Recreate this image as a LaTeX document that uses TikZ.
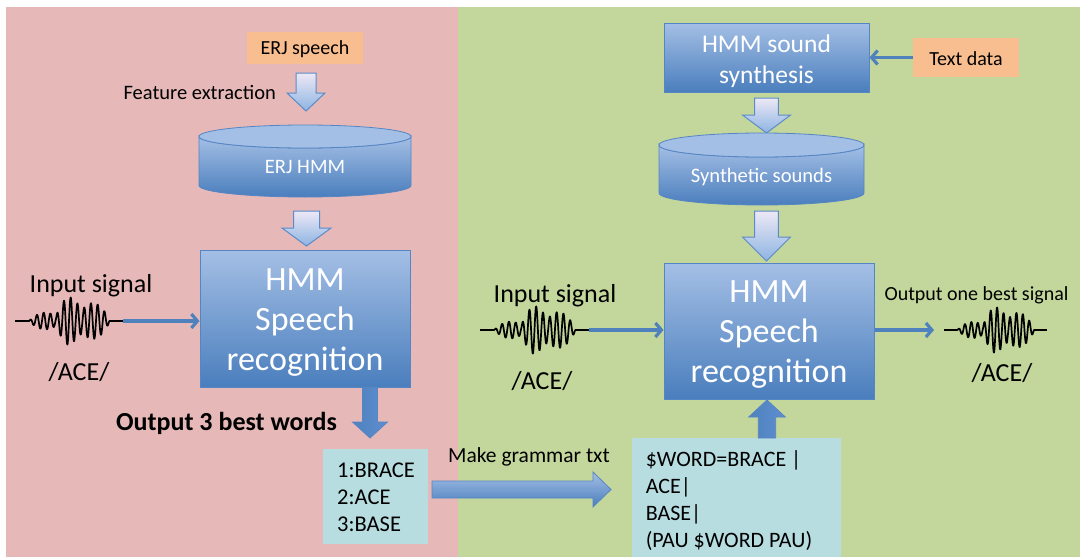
\documentclass[tikz,border=0pt]{standalone}
\usepackage{fontspec}
\setmainfont{Carlito}
\usetikzlibrary{arrows.meta}
\definecolor{pinkbg}{HTML}{E6B9B8}
\definecolor{greenbg}{HTML}{C3D69B}
\definecolor{orangebox}{HTML}{F9BE8F}
\definecolor{cyanbox}{HTML}{B7DDE0}
\definecolor{boxtop}{HTML}{A4BFE5}
\definecolor{boxbot}{HTML}{4A7EBD}
\definecolor{boxedge}{HTML}{5585C5}
\definecolor{arrtop}{HTML}{EDE8F5}
\definecolor{arrbot}{HTML}{8DB4E2}
\definecolor{arredge}{HTML}{5B8BC9}
\definecolor{lineblue}{HTML}{4F81BD}
\definecolor{darkarrL}{HTML}{4F81BD}
\definecolor{darkarrM}{HTML}{92B3E4}
\definecolor{darkarrR}{HTML}{5E8ED0}
\newcommand\myfs[1]{\fontsize{#1}{#1}\selectfont}
\newcommand\blockv[7]{\path[#7] ({#1-#5},#2) -- ({#1+#5},#2) -- ({#1+#5},#3) -- ({#1+#6},#3) -- (#1,#4) -- ({#1-#6},#3) -- ({#1-#5},#3) -- cycle;}
\newcommand\mywave[4]{\draw[wave] plot[domain=0:1, samples=320] ({#1+#3*\x}, {#2 - #4*wenv(\x)*sin(\x*5760)});}
\newcommand\mycyl[6]{%
  \path[cylbody] ({#1-#2},{#4+#5}) -- ({#1-#2},{#3-#5}) arc[start angle=180,end angle=0,x radius=#2,y radius=#5] -- ({#1+#2},{#4+#5}) arc[start angle=0,end angle=180,x radius=#2,y radius=#5] -- cycle;
  \path[cyltop] (#1,{#4+#5}) ellipse[x radius=#2,y radius=#5];
  \node[inner sep=0, minimum width={2*#2*1pt}, minimum height={(#3-#4)*1pt}] (#6) at (#1,{(#3+#4)/2}) {};}
\begin{document}
\begin{tikzpicture}[x=1pt,y=-1pt,
  declare function={bmp(\u)=max(0,1-\u*\u); wenv(\u)=0.35*bmp((\u-0.28)/0.15)+bmp((\u-0.5)/0.12)+0.75*bmp((\u-0.72)/0.16);},
  wave/.style={black, line width=1.7pt, line join=round},
  bluebox/.style={draw=boxedge, line width=1pt, top color=boxtop, bottom color=boxbot, inner sep=0},
  orangenode/.style={fill=orangebox, inner sep=0},
  cyannode/.style={fill=cyanbox, inner sep=0},
  wtxt/.style={white, inner sep=0, anchor=base},
  btxt/.style={black, inner sep=0, anchor=base},
  lightarrow/.style={top color=arrtop, bottom color=arrbot, draw=arredge, line width=1pt, line join=miter},
  darkarrow/.style={left color=darkarrL, middle color=darkarrM, right color=darkarrR, draw=boxedge, line width=0.8pt},
  bigarrow/.style={top color=boxtop, bottom color=boxbot, draw=boxedge, line width=0.8pt},
  thinarrow/.style={draw=lineblue, line width=3.2pt, -{Straight Barb[length=6pt,width=14pt]}},
  cylbody/.style={top color=boxtop, bottom color=boxbot, draw=boxedge, line width=0.8pt},
  cyltop/.style={fill=boxtop, draw=boxedge, line width=0.8pt}]
\useasboundingbox (0,0) rectangle (1080,557);
\fill[white] (0,0) rectangle (1080,557);
\fill[pinkbg] (6,7) rectangle (458,557);
\fill[greenbg] (458,7) rectangle (1080,557);

% ---------- left panel ----------
\node[orangenode, minimum width=116pt, minimum height=32pt] (erjsp) at (305,48) {};
\node[btxt, font=\myfs{20}] (erjspT) at (305,54.5) {ERJ speech};
\blockv{306}{73}{93}{111}{10}{19}{lightarrow}
\node[btxt, font=\myfs{20.5}, anchor=base east] (featT) at (276,99.5) {Feature extraction};
\mycyl{305}{106}{197}{125}{11.5}{erjhmm}
\node[wtxt, font=\myfs{20.5}] (erjhmmT) at (305,173.5) {ERJ HMM};
\blockv{306.5}{211}{228}{246}{13}{24.5}{lightarrow}
\node[bluebox, minimum width=210pt, minimum height=137pt] (hmmL) at (305,318.5) {};
\node[wtxt, font=\myfs{34}] (hmmL1) at (305,290) {HMM};
\node[wtxt, font=\myfs{34}] (hmmL2) at (305,330) {Speech};
\node[wtxt, font=\myfs{34}] (hmmL3) at (305,370) {recognition};
\node[btxt, font=\myfs{26}] (inL) at (91,292) {Input signal};
\mywave{15}{321}{108}{24}
\coordinate (wLend) at (123,321);
\draw[thinarrow] (wLend) -- (hmmL.west |- wLend);
\node[btxt, font=\myfs{26}] (aceL) at (79,380) {/ACE/};
\blockv{370}{387}{422}{438}{7.5}{17.5}{darkarrow}
\node[btxt, font=\bfseries\myfs{26}] (out3) at (226.5,430) {Output 3 best words};
\node[cyannode, minimum width=105pt, minimum height=95pt, anchor=north west] (words) at (323,449) {};
\node[btxt, font=\myfs{22.5}, anchor=base west] (w1) at (337,477) {1:BRACE};
\node[btxt, font=\myfs{22.5}, anchor=base west] (w2) at (337,504) {2:ACE};
\node[btxt, font=\myfs{22.5}, anchor=base west] (w3) at (337,531) {3:BASE};
\path[bigarrow] (432,481) -- (593,481) -- (593,472) -- (611,489.5) -- (593,507) -- (593,498) -- (432,498) -- cycle;
\node[btxt, font=\myfs{21.5}, anchor=base west] (mkg) at (448,462) {Make grammar txt};

% ---------- right panel ----------
\node[bluebox, minimum width=205pt, minimum height=69pt] (synth) at (766.5,57.5) {};
\node[wtxt, font=\myfs{25.5}] (synth1) at (766.5,52) {HMM sound};
\node[wtxt, font=\myfs{25.5}] (synth2) at (766.5,83) {synthesis};
\node[orangenode, minimum width=106pt, minimum height=39pt] (tdata) at (966,57.5) {};
\node[btxt, font=\myfs{20}] (tdataT) at (966,65) {Text data};
\draw[thinarrow] (tdata.west) -- (synth.east);
\blockv{766.5}{98}{115}{133}{11.8}{24}{lightarrow}
\mycyl{761.5}{102.5}{205}{133}{12}{syns}
\node[wtxt, font=\myfs{20.6}] (synsT) at (761.5,182) {Synthetic sounds};
\blockv{766.5}{211}{237}{261}{11.8}{24}{lightarrow}
\node[bluebox, minimum width=210pt, minimum height=136pt] (hmmR) at (769,331) {};
\node[wtxt, font=\myfs{34}] (hmmR1) at (769,302) {HMM};
\node[wtxt, font=\myfs{34}] (hmmR2) at (769,342) {Speech};
\node[wtxt, font=\myfs{34}] (hmmR3) at (769,382) {recognition};
\node[btxt, font=\myfs{26}] (inR) at (555,302) {Input signal};
\mywave{480}{330}{109}{24}
\coordinate (wRend) at (589,330);
\draw[thinarrow] (wRend) -- (hmmR.west |- wRend);
\node[btxt, font=\myfs{26}] (aceR) at (542,389) {/ACE/};
\node[btxt, font=\myfs{20}] (out1) at (976.5,300) {Output one best signal};
\coordinate (outtip) at (934,330);
\draw[thinarrow] (hmmR.east |- outtip) -- (outtip);
\mywave{944}{330}{103}{23}
\node[btxt, font=\myfs{26}] (aceR2) at (1002,381) {/ACE/};
\node[cyannode, minimum width=208.5pt, minimum height=125pt, anchor=north west] (gram) at (632,438) {};
\blockv{767}{438}{417}{400}{8.7}{18.3}{darkarrow}
\node[btxt, font=\myfs{22}, anchor=base west] (g1) at (645.6,466) {\$WORD=BRACE |};
\node[btxt, font=\myfs{22}, anchor=base west] (g2) at (645.6,493) {ACE|};
\node[btxt, font=\myfs{22}, anchor=base west] (g3) at (645.6,520) {BASE|};
\node[btxt, font=\myfs{22}, anchor=base west] (g4) at (645.6,547) {(PAU \$WORD PAU)};
\end{tikzpicture}
\end{document}
